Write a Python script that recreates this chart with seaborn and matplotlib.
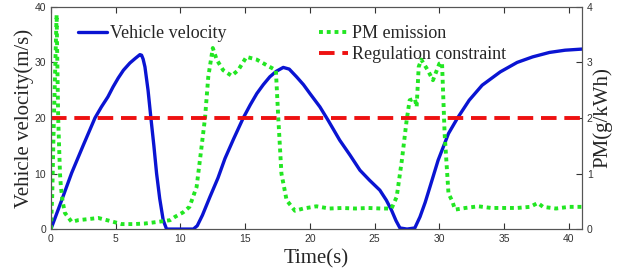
import numpy as np
import pandas as pd
import matplotlib
matplotlib.use("Agg")
import matplotlib.pyplot as plt
import seaborn as sns

# Vehicle velocity (m/s), left axis
vel_t = [0, 0.8, 1.6, 2.5, 3.4, 3.9, 4.4, 4.8, 5.2, 5.6, 6.1, 6.5, 6.87, 7.0, 7.12, 7.26,
         7.5, 7.72, 7.95, 8.16, 8.4, 8.67, 8.93, 9.5, 10.5, 11.0, 11.3, 11.7, 12.28, 12.9,
         13.44, 14.1, 14.85, 15.4, 15.9, 16.4, 16.9, 17.4, 17.94, 18.4, 18.97, 19.5, 20.0,
         20.77, 21.4, 22.3, 23.1, 23.86, 24.6, 25.4, 25.9, 26.3, 26.65, 26.95, 27.5, 28.1,
         28.5, 28.9, 29.27, 29.9, 30.7, 31.4, 32.3, 33.3, 34.7, 36.0, 37.2, 38.5, 39.7, 41]
vel_v = [0, 5.0, 10.1, 15.1, 20.0, 22.0, 23.8, 25.6, 27.2, 28.6, 29.9, 30.7, 31.4, 31.3, 30.6, 29.2,
         25.0, 20.0, 15.0, 10.0, 5.5, 1.6, 0, 0, 0, 0, 0.6, 2.5, 5.8, 9.2,
         12.7, 16.2, 20.0, 22.4, 24.4, 26.0, 27.4, 28.4, 29.1, 28.8, 27.4, 26.0, 24.4,
         22.0, 19.6, 16.0, 13.3, 10.6, 8.8, 7.0, 5.2, 3.4, 1.5, 0.2, 0, 0.2,
         2.2, 4.8, 7.6, 12.4, 17.2, 20.0, 23.2, 25.9, 28.3, 30.0, 31.0, 31.8, 32.2, 32.4]

# PM emission (g/kWh), right axis
pm_t = [0, 0.1, 0.23, 0.44, 0.56, 0.7, 0.77, 0.9, 1.08, 1.6, 2.1, 2.9, 3.65, 4.5, 5.46, 6.4,
        7.26, 8.27, 9.2, 9.58, 10.2, 10.7, 11.25, 11.6, 11.9, 12.15, 12.5, 12.8, 13.3,
        13.95, 14.46, 15.1, 15.9, 16.66, 17.37, 17.55, 17.8, 18.2, 18.84, 19.5, 20.5,
        21.5, 22.5, 23.5, 24.5, 25.5, 26.3, 26.7, 27.1, 27.47, 27.7, 28.1, 28.24, 28.4,
        28.6, 29.1, 29.5, 30.0, 30.2, 30.4, 30.7, 31.0, 31.2, 32, 33, 34, 35, 36, 37,
        37.6, 38, 39, 40, 41]
pm_v = [0, 0.6, 2.0, 3.86, 2.0, 1.0, 0.76, 0.5, 0.29, 0.13, 0.16, 0.18, 0.2, 0.15, 0.09, 0.09,
        0.1, 0.13, 0.16, 0.22, 0.3, 0.4, 0.76, 1.42, 2.0, 2.74, 3.26, 3.05, 2.86,
        2.76, 2.86, 3.1, 3.05, 2.95, 2.86, 2.03, 1.0, 0.52, 0.33, 0.37, 0.41,
        0.37, 0.38, 0.37, 0.38, 0.37, 0.37, 0.58, 1.24, 1.96, 2.32, 2.35, 2.2, 2.92,
        3.05, 2.86, 2.68, 2.98, 3.0, 1.72, 0.64, 0.5, 0.35, 0.38, 0.41, 0.38, 0.38, 0.38, 0.4,
        0.47, 0.4, 0.37, 0.4, 0.4]

# Regulation constraint (g/kWh)
limit_pm = 2.0

sns.set_style("ticks")
serif = "Liberation Serif"
tick_font = "Liberation Sans"

fig = plt.figure(figsize=(6.21, 2.75), dpi=100)
ax = fig.add_axes([0.082, 0.167, 0.855, 0.808])
ax2 = ax.twinx()

vel = pd.DataFrame({"t": vel_t, "v": vel_v})
pm = pd.DataFrame({"t": pm_t, "pm": pm_v})

sns.lineplot(data=vel, x="t", y="v", ax=ax, color="#0a14d2", linewidth=2.4,
             label="Vehicle velocity")
sns.lineplot(data=pm, x="t", y="pm", ax=ax2, color="#22e622", linewidth=2.8,
             linestyle=(0, (1, 1)), label="PM emission")
ax2.axhline(limit_pm, color="#ee1111", linewidth=2.8, linestyle=(0, (4, 2)),
            label="Regulation constraint")

ax.set_xlim(0, 41)
ax.set_ylim(0, 40)
ax2.set_ylim(0, 4)
ax.set_xticks(range(0, 41, 5))
ax.set_yticks(range(0, 41, 10))
ax2.set_yticks(range(0, 5))

for a in (ax, ax2):
    a.tick_params(direction="in", length=4, width=0.8, labelsize=7.5,
                  colors="#333333", labelcolor="#333333")
    for lab in a.get_xticklabels() + a.get_yticklabels():
        lab.set_fontfamily(tick_font)
    for sp in a.spines.values():
        sp.set_visible(True)
        sp.set_color("#555555")
        sp.set_linewidth(0.8)
ax.tick_params(top=True)

ax.set_xlabel("Time(s)", fontfamily=serif, fontsize=15, labelpad=4)
ax.set_ylabel("Vehicle velocity(m/s)", fontfamily=serif, fontsize=15, labelpad=0)
ax2.set_ylabel("PM(g/kWh)", fontfamily=serif, fontsize=15, labelpad=0)

ax.legend(loc="upper left", bbox_to_anchor=(0.02, 0.99), frameon=False,
          prop={"family": serif, "size": 13}, handlelength=1.6, handletextpad=0.2)
ax2.legend(loc="upper left", bbox_to_anchor=(0.475, 0.99), frameon=False,
           prop={"family": serif, "size": 13}, handlelength=1.6, handletextpad=0.2,
           labelspacing=0.2)

fig.savefig("out.png", dpi=100)
